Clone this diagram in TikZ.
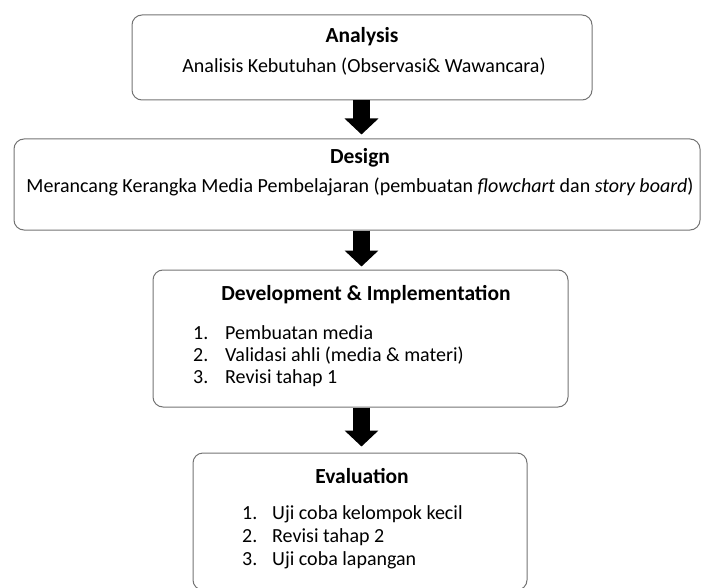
\documentclass[tikz,border=0pt]{standalone}
\usepackage{fontspec}
\setmainfont{Carlito}
\usetikzlibrary{arrows.meta}
\begin{document}
\begin{tikzpicture}[x=1pt,y=-1pt,
  stage/.style={draw=black!55, line width=1pt, rounded corners=10pt, inner sep=0pt},
  title/.style={font=\fontsize{21.5}{24}\selectfont\bfseries, inner sep=0pt, text height=15pt, text depth=5pt, anchor=center},
  body/.style={font=\fontsize{20}{23}\selectfont, inner sep=0pt, text height=14pt, text depth=5pt},
  item/.style={body, anchor=west},
  blockarrow/.style={line width=17pt, -{Triangle[width=33pt,length=16pt]}, black}]
\useasboundingbox (0,0) rectangle (703,588);

% stage boxes
\node[stage, minimum width=460, minimum height=85] (analysis) at (362,57.5) {};
\node[stage, minimum width=686, minimum height=91] (design) at (357,184.5) {};
\node[stage, minimum width=415, minimum height=137] (devimp) at (360.5,338.5) {};
\node[stage, minimum width=334, minimum height=137] (eval) at (360,521.5) {};

% Analysis
\node[title] (tA) at (362,38) {Analysis};
\node[body] (bA) at (364,68) {Analisis Kebutuhan (Observasi\& Wawancara)};

% Design
\node[title] (tD) at (360,159) {Design};
\node[body] (bD) at (360,188) {Merancang Kerangka Media Pembelajaran (pembuatan \textit{flowchart} dan \textit{story board})};

% Development & Implementation
\node[title] (tI) at (366,295) {Development \& Implementation};
\node[item] (n1) at (193,335) {1.};
\node[item] (i1) at (225,335) {Pembuatan media};
\node[item] (n2) at (193,357) {2.};
\node[item] (i2) at (225,357) {Validasi ahli (media \& materi)};
\node[item] (n3) at (193,379) {3.};
\node[item] (i3) at (225,379) {Revisi tahap 1};

% Evaluation
\node[title] (tE) at (362,478) {Evaluation};
\node[item] (m1) at (242,515) {1.};
\node[item] (j1) at (272,515) {Uji coba kelompok kecil};
\node[item] (m2) at (242,538) {2.};
\node[item] (j2) at (272,538) {Revisi tahap 2};
\node[item] (m3) at (242,561) {3.};
\node[item] (j3) at (272,561) {Uji coba lapangan};

% flow arrows between stages
\draw[blockarrow] ([xshift=-0.5pt]analysis.south) -- ([xshift=4.5pt,yshift=4pt]design.north);
\draw[blockarrow] ([xshift=4.5pt]design.south) -- ([xshift=1pt,yshift=3pt]devimp.north);
\draw[blockarrow] ([xshift=1pt]devimp.south) -- ([xshift=1.5pt,yshift=6pt]eval.north);
\end{tikzpicture}
\end{document}
